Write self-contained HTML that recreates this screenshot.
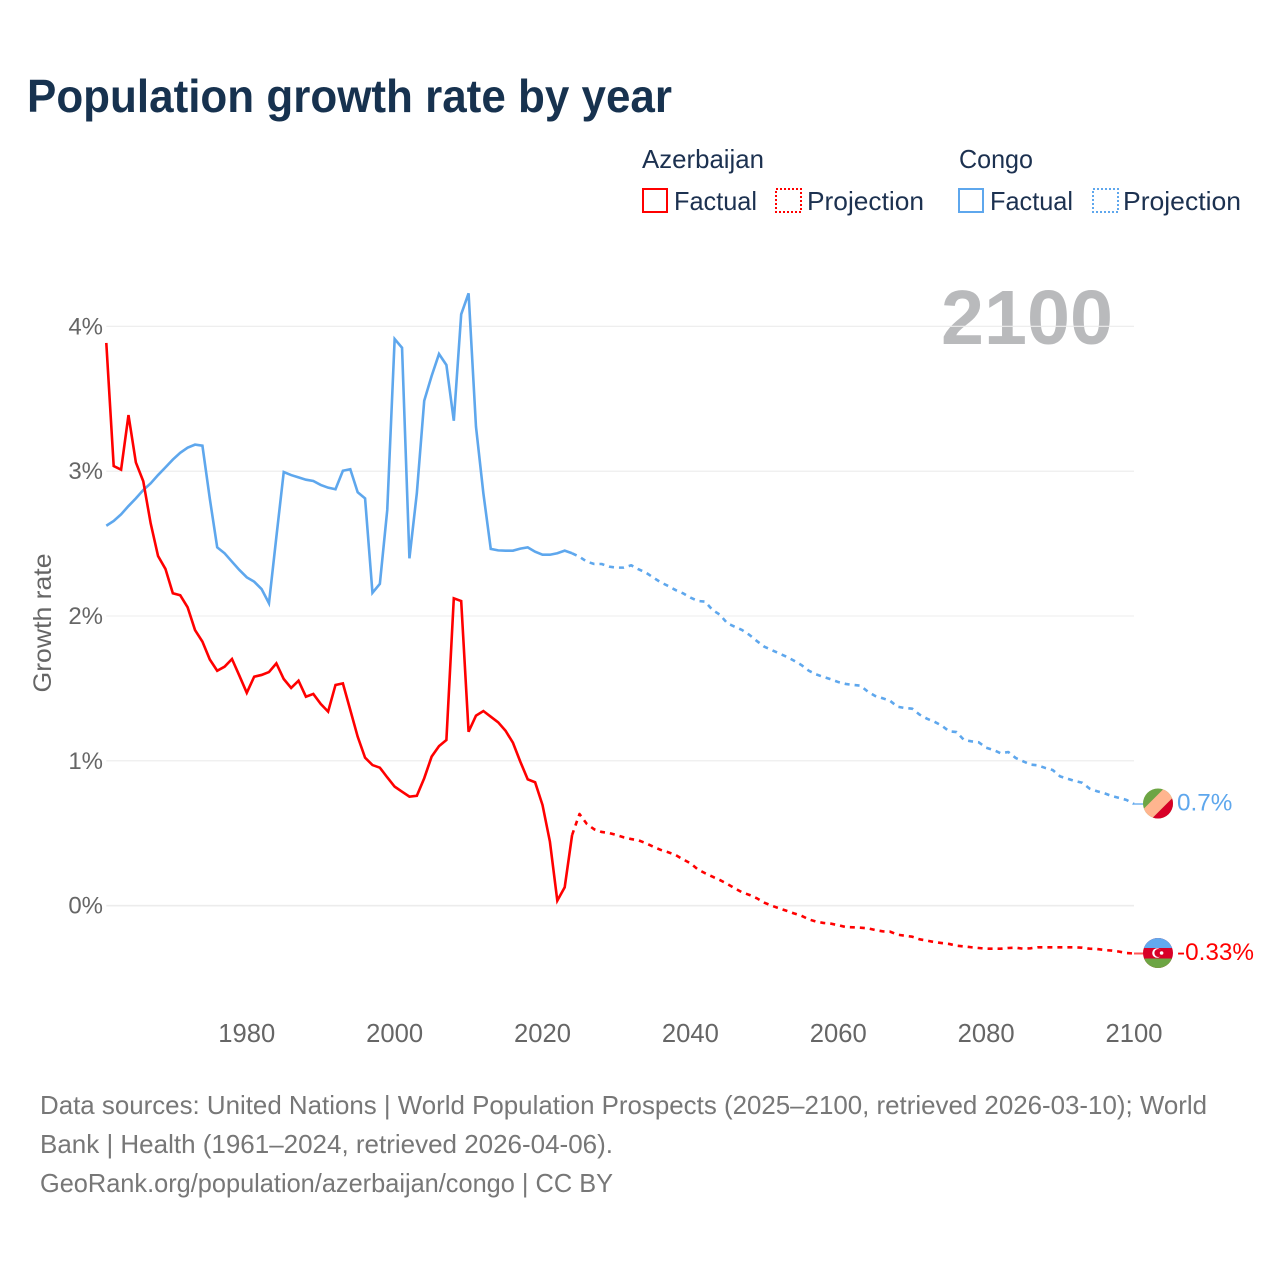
<!DOCTYPE html>
<html lang="en">
<head>
<meta charset="utf-8">
<title>Population growth rate by year</title>
<style>
  html, body { margin: 0; padding: 0; background: #fff; }
  svg { display: block; font-family: "Liberation Sans", sans-serif; }
</style>
</head>
<body>
<svg id="chart" width="1280" height="1280" viewBox="0 0 1280 1280" xmlns="http://www.w3.org/2000/svg">
  <rect width="1280" height="1280" fill="#ffffff"/>
  <text x="27" y="112" font-size="46" font-weight="700" fill="#17324f" textLength="645" lengthAdjust="spacingAndGlyphs">Population growth rate by year</text>

  <g font-size="26" fill="#1c3150">
    <text x="642" y="168" textLength="122" lengthAdjust="spacingAndGlyphs">Azerbaijan</text>
    <text x="959" y="168" textLength="74" lengthAdjust="spacingAndGlyphs">Congo</text>
    <rect x="643" y="189" width="24" height="23" fill="none" stroke="#ff0000" stroke-width="2"/>
    <text x="674" y="210" textLength="83" lengthAdjust="spacingAndGlyphs">Factual</text>
    <rect x="776" y="189" width="25" height="23" fill="none" stroke="#ff0000" stroke-width="2" stroke-dasharray="2 2"/>
    <text x="807" y="210" textLength="117" lengthAdjust="spacingAndGlyphs">Projection</text>
    <rect x="959" y="189" width="24" height="23" fill="none" stroke="#5ea7ed" stroke-width="2"/>
    <text x="990" y="210" textLength="83" lengthAdjust="spacingAndGlyphs">Factual</text>
    <rect x="1093" y="189" width="25" height="23" fill="none" stroke="#5ea7ed" stroke-width="2" stroke-dasharray="2 2"/>
    <text x="1123" y="210" textLength="118" lengthAdjust="spacingAndGlyphs">Projection</text>
  </g>

  <text x="941" y="344" font-size="77" font-weight="700" fill="#b9babc" textLength="172" lengthAdjust="spacingAndGlyphs">2100</text>
  <text transform="translate(51,623) rotate(-90)" text-anchor="middle" font-size="25" fill="#666666" textLength="139" lengthAdjust="spacingAndGlyphs">Growth rate</text>

  <g id="grid"></g>
  <g id="yticks"></g>
  <g id="xticks"></g>
  <g id="series"></g>
  <g id="endpoints"></g>

  <g font-size="26" fill="#777777">
    <text x="40" y="1114" textLength="1167" lengthAdjust="spacingAndGlyphs">Data sources: United Nations | World Population Prospects (2025–2100, retrieved 2026-03-10); World</text>
    <text x="40" y="1153" textLength="573" lengthAdjust="spacingAndGlyphs">Bank | Health (1961–2024, retrieved 2026-04-06).</text>
    <text x="40" y="1192" textLength="573" lengthAdjust="spacingAndGlyphs">GeoRank.org/population/azerbaijan/congo | CC BY</text>
  </g>
</svg>

<script>
const factualStartYear = 1961;
const projectionStartYear = 2025;
const xTickYears = [1980, 2000, 2020, 2040, 2060, 2080, 2100];
const yTickValues = [0, 1, 2, 3, 4];
const azerbaijanFactual = [
  3.885,3.035,3.01,3.387,3.06,2.93,2.64,2.414,2.325,2.157,
  2.143,2.06,1.903,1.823,1.70,1.622,1.65,1.703,1.588,1.47,
  1.581,1.593,1.613,1.673,1.565,1.503,1.553,1.443,1.462,1.393,
  1.34,1.524,1.535,1.351,1.167,1.022,.971,.953,.886,.822,
  .787,.753,.759,.88,1.029,1.102,1.144,2.122,2.103,1.201,
  1.312,1.344,1.305,1.266,1.208,1.125,.994,.872,.852,.695,
  .442,.035,.127,.488
];
const azerbaijanProjection = [
  .633,.564,.527,.509,.502,.488,.472,.46,.451,.431,
  .407,.385,.369,.35,.32,.293,.251,.224,.2,.177,
  .15,.12,.092,.074,.051,.021,0,-.018,-.035,-.053,
  -.069,-.094,-.11,-.119,-.124,-.135,-.147,-.149,-.152,-.156,
  -.168,-.177,-.179,-.2,-.207,-.214,-.232,-.241,-.251,-.258,
  -.264,-.276,-.281,-.287,-.292,-.297,-.297,-.297,-.292,-.29,
  -.297,-.294,-.287,-.287,-.287,-.287,-.287,-.287,-.29,-.297,
  -.299,-.306,-.31,-.317,-.327,-.33
];
const congoFactual = [
  2.623,2.656,2.702,2.759,2.812,2.87,2.916,2.973,3.026,3.08,
  3.127,3.162,3.183,3.176,2.81,2.474,2.433,2.375,2.318,2.267,
  2.237,2.186,2.088,2.545,2.994,2.973,2.957,2.941,2.932,2.905,
  2.886,2.875,3.003,3.013,2.854,2.812,2.16,2.222,2.732,3.912,
  3.852,2.398,2.847,3.486,3.657,3.809,3.733,3.348,4.083,4.228,
  3.307,2.847,2.463,2.453,2.451,2.451,2.465,2.474,2.444,2.423,
  2.423,2.433,2.451,2.433
];
const congoProjection = [
  2.409,2.375,2.359,2.359,2.341,2.334,2.334,2.350,2.322,2.299,
  2.265,2.232,2.207,2.179,2.157,2.127,2.104,2.099,2.041,2.009,
  1.949,1.926,1.903,1.869,1.827,1.788,1.765,1.742,1.719,1.692,
  1.662,1.623,1.597,1.579,1.563,1.544,1.531,1.524,1.519,1.478,
  1.448,1.432,1.415,1.374,1.365,1.360,1.319,1.291,1.270,1.243,
  1.204,1.199,1.144,1.135,1.128,1.091,1.075,1.052,1.061,1.020,
  .997,.974,.969,.951,.937,.893,.877,.861,.849,.808,
  .790,.776,.757,.744,.730,.702
];
const azerbaijanEndLabel = "-0.33%";
const congoEndLabel = "0.7%";

const NS = "http://www.w3.org/2000/svg";
const RED = "#ff0000";
const BLUE = "#5ea7ed";
function xScale(year) { return 106.3 + (year - 1961) * (1134 - 106.3) / 139; }
function yScale(value) { return 905.7 - value * 144.85; }
function make(tag, attrs, parent) {
  const el = document.createElementNS(NS, tag);
  for (const k in attrs) el.setAttribute(k, attrs[k]);
  parent.appendChild(el);
  return el;
}
function pathFrom(startYear, values) {
  return values.map((v, i) => (i ? "L" : "M") + xScale(startYear + i).toFixed(2) + " " + yScale(v).toFixed(2)).join("");
}

const gridG = document.getElementById("grid");
const yG = document.getElementById("yticks");
yTickValues.forEach(function (v) {
  const line = make("line", { x1: xScale(1961), x2: xScale(2100), y1: yScale(v), y2: yScale(v), stroke: "#ececec", "stroke-width": v === 0 ? 1.6 : 1.1 }, gridG);
  
  
  const label = make("text", { x: 103, y: yScale(v) + 8, "text-anchor": "end", "font-size": 24, fill: "#666666" }, yG);
  
  
  label.textContent = v + "%";
});

const xG = document.getElementById("xticks");
xTickYears.forEach(function (yr) {
  const label = make("text", { x: xScale(yr), y: 1042, "text-anchor": "middle", "font-size": 25.6, fill: "#666666" }, xG);
  
  
  label.textContent = yr;
});

const seriesG = document.getElementById("series");
function drawSeries(factual, projection, color, name) {
  const lastFactualYear = factualStartYear + factual.length - 1;
  const joined = [factual[factual.length - 1]].concat(projection);
  const proj = make("path", { d: pathFrom(lastFactualYear, joined), fill: "none", stroke: color, "stroke-width": 2.6, "stroke-dasharray": "5 5", "stroke-linejoin": "round" }, seriesG);
  
  
  const fact = make("path", { d: pathFrom(factualStartYear, factual), fill: "none", stroke: color, "stroke-width": 2.6, "stroke-linejoin": "miter" }, seriesG);
  
  
}
drawSeries(congoFactual, congoProjection, BLUE, "congo");
drawSeries(azerbaijanFactual, azerbaijanProjection, RED, "azerbaijan");

const endG = document.getElementById("endpoints");
const defs = make("defs", {}, endG);
const clip = make("clipPath", { id: "flag-clip" }, defs);
make("circle", { cx: 0, cy: 0, r: 15 }, clip);

function endMarker(name, color, values, labelText, drawFlag) {
  const yEnd = yScale(values[values.length - 1]);
  const xEnd = xScale(2100);
  const tail = make("line", { x1: xEnd, x2: xEnd + 10, y1: yEnd, y2: yEnd, stroke: color, "stroke-width": 2, opacity: 0.65 }, endG);
  
  
  const flag = make("g", { transform: "translate(" + (xEnd + 24) + "," + (yEnd - 0.5) + ")", "clip-path": "url(#flag-clip)" }, endG);
  
  
  drawFlag(flag);
  const label = make("text", { x: xEnd + 43, y: yEnd + 6.5, "font-size": 24.3, fill: color }, endG);
  
  
  label.textContent = labelText;
}
endMarker("congo", BLUE, congoProjection, congoEndLabel, function (f) {
  make("rect", { x: -16, y: -16, width: 32, height: 32, fill: "#6da544" }, f);
  make("polygon", { points: "-18,9 9,-18 18,-9 -9,18", fill: "#ffb58f" }, f);
  make("polygon", { points: "18,-9 -9,18 18,18", fill: "#d80027" }, f);
});
endMarker("azerbaijan", RED, azerbaijanProjection, azerbaijanEndLabel, function (f) {
  make("rect", { x: -16, y: -16, width: 32, height: 32, fill: "#d80027" }, f);
  make("rect", { x: -16, y: -16, width: 32, height: 11, fill: "#62a9ee" }, f);
  make("rect", { x: -16, y: 5.5, width: 32, height: 11, fill: "#6da544" }, f);
  make("circle", { cx: -1, cy: 0, r: 4.8, fill: "#ffffff" }, f);
  make("circle", { cx: 0.4, cy: 0, r: 4, fill: "#d80027" }, f);
  make("circle", { cx: 3.6, cy: 0, r: 1.8, fill: "#ffffff" }, f);
});
</script>
</body>
</html>
